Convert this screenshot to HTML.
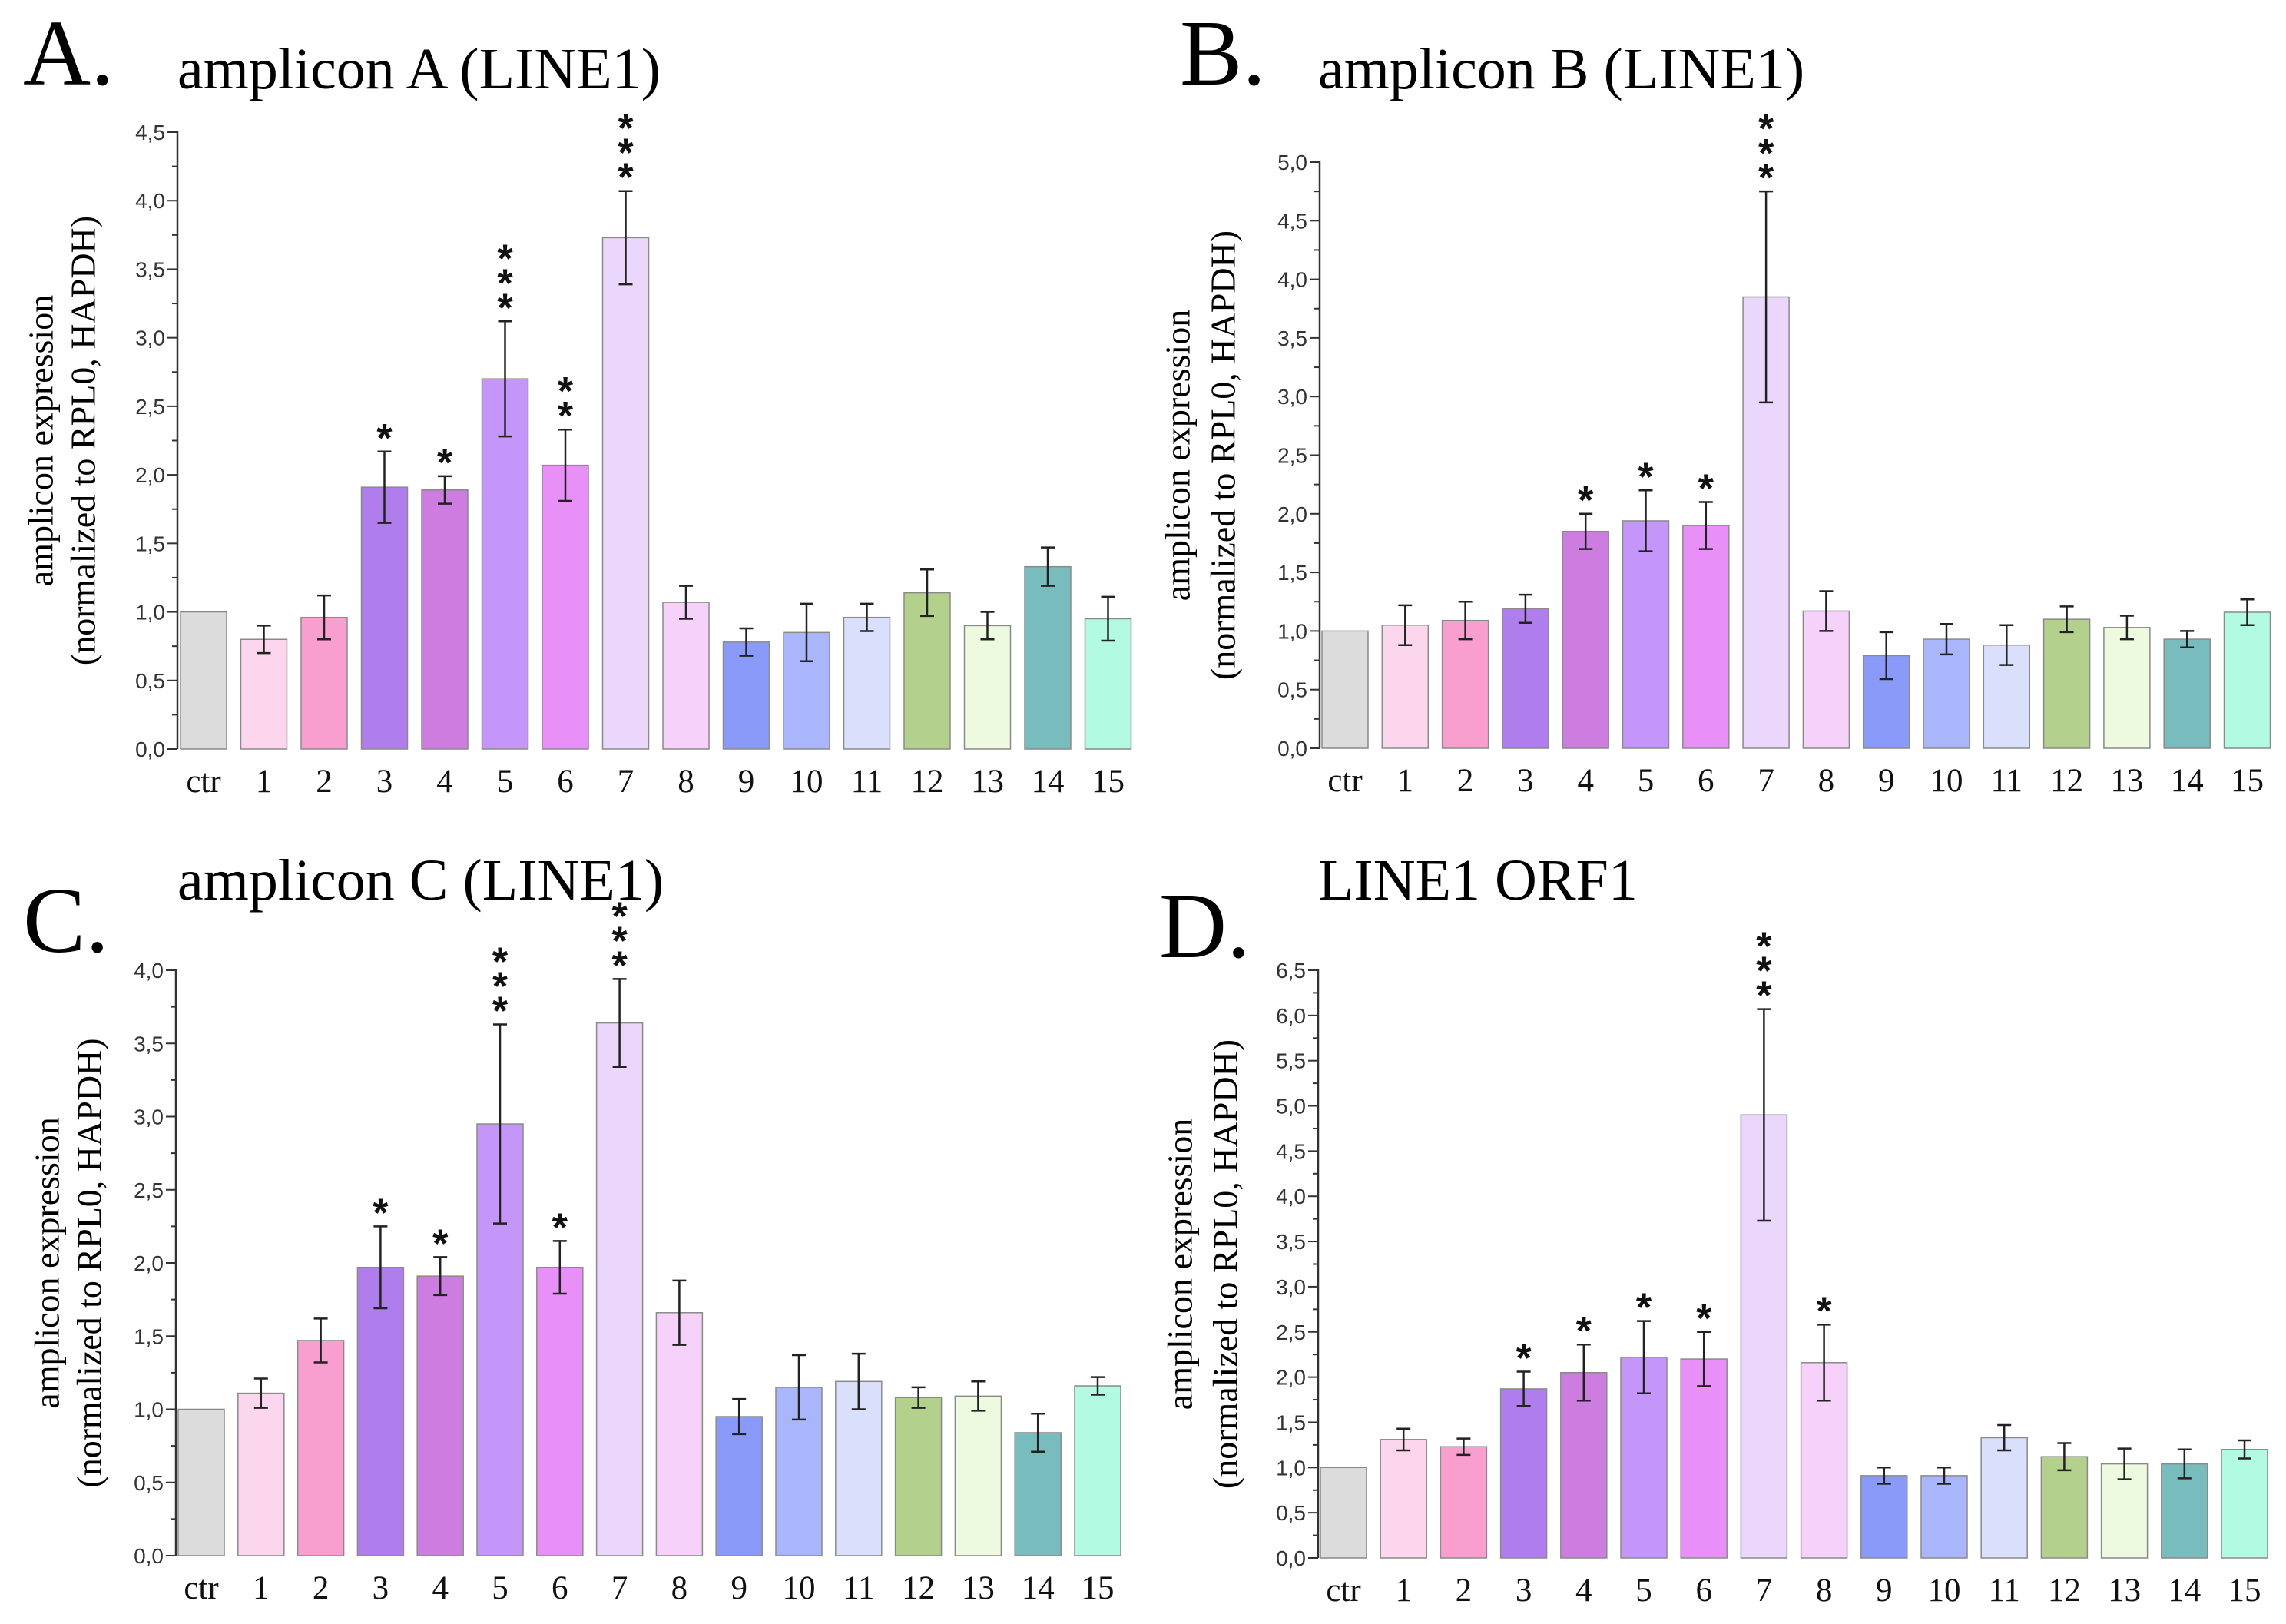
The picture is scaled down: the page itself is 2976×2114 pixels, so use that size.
<!DOCTYPE html>
<html><head><meta charset="utf-8">
<style>
html,body{margin:0;padding:0;background:#fff;}
svg{display:block;}
</style></head>
<body>
<svg id="fig" width="2976" height="2114" viewBox="0 0 2976 2114" xmlns="http://www.w3.org/2000/svg"></svg>
<script>
const categories = ["ctr","1","2","3","4","5","6","7","8","9","10","11","12","13","14","15"];
const colors = ["#dcdcdc","#fcd6ec","#f99fd0","#b07ded","#cc7ddf","#c596f9","#e890f8","#ead7fb","#f6d2fa","#8a9af8","#aab6fb","#dadffc","#b3d08c","#eefadf","#78bcbd","#b2fbe2"];

const valuesA = [1.0,0.80,0.96,1.91,1.89,2.70,2.07,3.73,1.07,0.78,0.85,0.96,1.14,0.90,1.33,0.95];
const errorsA = [0,0.10,0.16,0.26,0.10,0.42,0.26,0.34,0.12,0.10,0.21,0.10,0.17,0.10,0.14,0.16];
const starsA  = ["","","","*","*","***","**","***","","","","","","","",""];
const ticksA  = ["0,0","0,5","1,0","1,5","2,0","2,5","3,0","3,5","4,0","4,5"];

const valuesB = [1.0,1.05,1.09,1.19,1.85,1.94,1.90,3.85,1.17,0.79,0.93,0.88,1.10,1.03,0.93,1.16];
const errorsB = [0,0.17,0.16,0.12,0.15,0.26,0.20,0.90,0.17,0.20,0.13,0.17,0.11,0.10,0.07,0.11];
const starsB  = ["","","","","*","*","*","***","","","","","","","",""];
const ticksB  = ["0,0","0,5","1,0","1,5","2,0","2,5","3,0","3,5","4,0","4,5","5,0"];

const valuesC = [1.0,1.11,1.47,1.97,1.91,2.95,1.97,3.64,1.66,0.95,1.15,1.19,1.08,1.09,0.84,1.16];
const errorsC = [0,0.10,0.15,0.28,0.13,0.68,0.18,0.30,0.22,0.12,0.22,0.19,0.07,0.10,0.13,0.06];
const starsC  = ["","","","*","*","***","*","***","","","","","","","",""];
const ticksC  = ["0,0","0,5","1,0","1,5","2,0","2,5","3,0","3,5","4,0"];

const valuesD = [1.0,1.31,1.23,1.87,2.05,2.22,2.20,4.90,2.16,0.91,0.91,1.33,1.12,1.04,1.04,1.20];
const errorsD = [0,0.12,0.09,0.19,0.31,0.40,0.30,1.17,0.42,0.09,0.09,0.14,0.15,0.17,0.16,0.10];
const starsD  = ["","","","*","*","*","*","***","*","","","","","","",""];
const ticksD  = ["0,0","0,5","1,0","1,5","2,0","2,5","3,0","3,5","4,0","4,5","5,0","5,5","6,0","6,5"];

const NS = "http://www.w3.org/2000/svg";
const svg = document.getElementById("fig");
function el(tag, attrs, parent, text){
  const e = document.createElementNS(NS, tag);
  for (const k in attrs) e.setAttribute(k, attrs[k]);
  if (text !== undefined) e.textContent = text;
  (parent||svg).appendChild(e);
  return e;
}

function panel(cfg){
  const g = el("g", {});
  
  
  const ymax = (cfg.ticks.length-1)*0.5;
  const y = v => cfg.y0 - (v/ymax)*(cfg.y0-cfg.yTop);
  const x = i => cfg.c0 + i*cfg.step;
  const L = el("text",{x:cfg.lx,y:cfg.ly,"font-family":"Liberation Serif, serif","font-size":122,fill:"#000"},g,cfg.letter);
  
  
  const T = el("text",{x:cfg.tx,y:cfg.ty,"font-family":"Liberation Serif, serif","font-size":76,fill:"#000"},g,cfg.title);
  
  
  const cy = (cfg.y0+cfg.yTop)/2;
  const yl1 = el("text",{x:cfg.yl1,y:cy,"font-family":"Liberation Serif, serif","font-size":46,"text-anchor":"middle","dominant-baseline":"middle",transform:`rotate(-90 ${cfg.yl1} ${cy})`},g,"amplicon expression");
  
  
  const yl2 = el("text",{x:cfg.yl2,y:cy,"font-family":"Liberation Serif, serif","font-size":46,"text-anchor":"middle","dominant-baseline":"middle",transform:`rotate(-90 ${cfg.yl2} ${cy})`},g,"(normalized to RPL0, HAPDH)");
  
  
  const ax = el("line",{x1:cfg.ax,y1:cfg.yTop-2,x2:cfg.ax,y2:cfg.y0,stroke:"#333","stroke-width":2.5},g);
  
  
  for (let k=0;k<cfg.ticks.length;k++){
    const v = k*0.5, yy = y(v);
    el("line",{x1:cfg.ax-13,y1:yy,x2:cfg.ax,y2:yy,stroke:"#333","stroke-width":2},g);
    if (k<cfg.ticks.length-1){
      const ym = y(v+0.25);
      el("line",{x1:cfg.ax-7,y1:ym,x2:cfg.ax,y2:ym,stroke:"#333","stroke-width":2},g);
    }
    const tl = el("text",{x:cfg.ax-16,y:yy+10,"font-family":"Liberation Sans, sans-serif","font-size":28,"text-anchor":"end",fill:"#333"},g,cfg.ticks[k]);
    
    
  }
  const bw = 60;
  for (let i=0;i<categories.length;i++){
    const v = cfg.values[i], e = cfg.errors[i], cx = x(i);
    const r = el("rect",{x:cx-bw/2,y:y(v),width:bw,height:cfg.y0-y(v),fill:colors[i],stroke:"#8a8a8a","stroke-width":1.5},g);
    
    
    if (e>0){
      const eg = el("g",{stroke:"#222","stroke-width":2.5},g);
      
      
      el("line",{x1:cx,y1:y(v+e),x2:cx,y2:y(v-e)},eg);
      el("line",{x1:cx-9,y1:y(v+e),x2:cx+9,y2:y(v+e)},eg);
      el("line",{x1:cx-9,y1:y(v-e),x2:cx+9,y2:y(v-e)},eg);
    }
    const s = cfg.stars[i];
    for (let j=0;j<s.length;j++){
      const st = el("text",{x:cx,y:y(v+e)+32-(j+1)*32,"font-family":"Liberation Sans, sans-serif","font-size":52,"font-weight":"bold","text-anchor":"middle",fill:"#111"},g,"*");
      
      
    }
    const xl = el("text",{x:cx,y:cfg.y0+56,"font-family":"Liberation Serif, serif","font-size":43,"text-anchor":"middle",fill:"#111"},g,categories[i]);
    
    
  }
}

panel({id:"a",letter:"A.",title:"amplicon A (LINE1)",lx:30,ly:110,tx:231,ty:115,
  ax:231,yTop:172,y0:975,c0:265,step:78.5,yl1:58,yl2:113,
  values:valuesA,errors:errorsA,stars:starsA,ticks:ticksA});
panel({id:"b",letter:"B.",title:"amplicon B (LINE1)",lx:1536,ly:110,tx:1716,ty:115,
  ax:1718,yTop:211,y0:974,c0:1751,step:78.3,yl1:1538,yl2:1597,
  values:valuesB,errors:errorsB,stars:starsB,ticks:ticksB});
panel({id:"c",letter:"C.",title:"amplicon C (LINE1)",lx:30,ly:1239,tx:231,ty:1171,
  ax:229,yTop:1263,y0:2025,c0:262,step:77.8,yl1:66,yl2:121,
  values:valuesC,errors:errorsC,stars:starsC,ticks:ticksC});
panel({id:"d",letter:"D.",title:"LINE1 ORF1",lx:1509,ly:1246,tx:1716,ty:1171,
  ax:1716,yTop:1263,y0:2028,c0:1749,step:78.2,yl1:1541,yl2:1600,
  values:valuesD,errors:errorsD,stars:starsD,ticks:ticksD});
</script>
</body></html>
